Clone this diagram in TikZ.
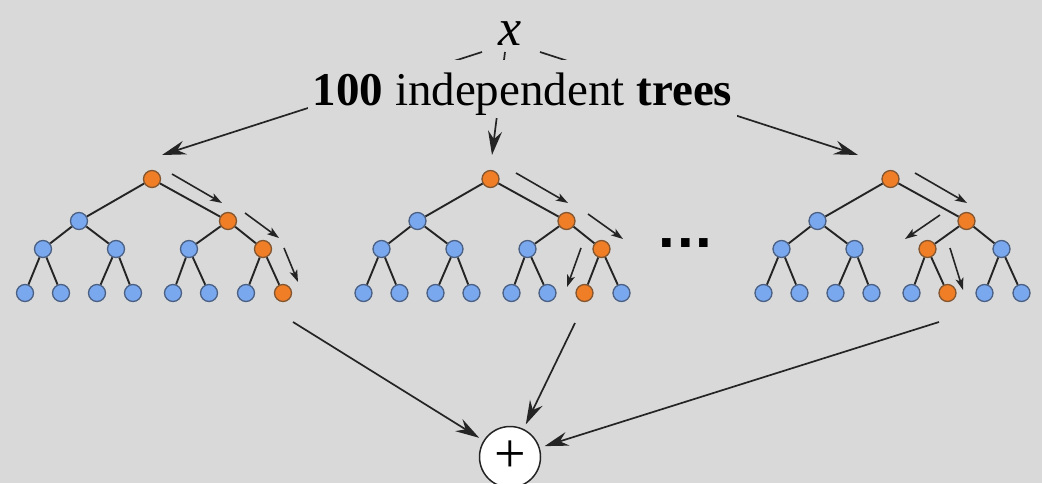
\documentclass[tikz,border=0pt]{standalone}
\usepackage{fontspec}
\setmainfont{Liberation Serif}
\newfontfamily\dotsfont{Liberation Sans}
\usetikzlibrary{arrows.meta}

\definecolor{bg}{RGB}{217,217,217}
\definecolor{nodeblue}{RGB}{122,168,238}
\definecolor{nodeblueedge}{RGB}{74,96,132}
\definecolor{nodeorange}{RGB}{240,126,38}
\definecolor{nodeorangeedge}{RGB}{132,86,48}
\definecolor{ink}{RGB}{36,36,36}

\tikzset{
  tn/.style={circle, draw=nodeblueedge, fill=nodeblue, line width=1.3pt,
             minimum size=17pt, inner sep=0pt},
  on/.style={draw=nodeorangeedge, fill=nodeorange},
  edge/.style={draw=ink, line width=1.9pt},
  hint/.style={draw=ink, line width=1.6pt, -{Stealth[length=12pt,width=8pt,inset=3pt]}},
  feed/.style={draw=ink, line width=1.7pt, -{Stealth[length=24pt,width=14pt,inset=8pt]}},
  % nodes on the decision path of each tree
  hl-ta-1/.style=on, hl-ta-3/.style=on, hl-ta-7/.style=on, hl-ta-15/.style=on,
  hl-tb-1/.style=on, hl-tb-3/.style=on, hl-tb-7/.style=on, hl-tb-14/.style=on,
  hl-tc-1/.style=on, hl-tc-3/.style=on, hl-tc-6/.style=on, hl-tc-13/.style=on,
}

% a complete binary tree of depth 3 (heap numbering 1..15), shifted by #2
\newcommand\bintree[2]{%
  \foreach \i/\px/\py in {1/152/179, 2/79/221, 3/228/221,
      4/43/249, 5/116/249, 6/189/249, 7/263/249,
      8/25/293, 9/61/293, 10/97/293, 11/133/293,
      12/173/293, 13/209/293, 14/246/293, 15/283/293}{%
    \pgfmathsetmacro\qx{\px+#2}%
    \edef\tmp{\noexpand\node[tn, hl-#1-\i/.try] (#1-\i) at (\qx,\py) {};}%
    \tmp}%
  \foreach \p in {1,...,7}{%
    \pgfmathtruncatemacro\lc{2*\p}%
    \pgfmathtruncatemacro\rc{2*\p+1}%
    \draw[edge] (#1-\p) -- (#1-\lc);
    \draw[edge] (#1-\p) -- (#1-\rc);}%
}

\begin{document}
\begin{tikzpicture}[x=1pt,y=-1pt]
  \fill[bg] (0,0) rectangle (1042,483);
  \useasboundingbox (0,0) rectangle (1042,483);

  % input
  \node[anchor=base, inner sep=0pt, font=\fontsize{52}{52}\selectfont\itshape] (xin) at (510,45) {x};
  \coordinate (xl) at (482,52);
  \coordinate (xc) at (505,52);
  \coordinate (xr) at (540,52);
  \coordinate (tl) at (162,155);
  \coordinate (tc) at (492,155);
  \coordinate (tr) at (858,155);
  \draw[feed] (xl) -- (tl);
  \draw[feed] (xc) -- (tc);
  \draw[feed] (xr) -- (tr);

  % label laid over the fan-out
  \node[anchor=base, fill=bg, inner xsep=5pt, inner ysep=0pt, text height=45pt, text depth=13pt,
        font=\fontsize{47}{50}\selectfont] (lbl) at (522.5,105)
    {\textbf{100} independent \textbf{trees}};

  % the forest
  \bintree{ta}{0}
  \bintree{tb}{338.5}
  \bintree{tc}{738.5}

  % decision-path hints
  \draw[hint] (172,174) -- (222,203);
  \draw[hint] (245,213) -- (279,238);
  \draw[hint] (284,248) -- (298,282);

  \draw[hint] (516,173) -- (568,203);
  \draw[hint] (588,214) -- (623,239);
  \draw[hint] (581,248) -- (567,287);

  \draw[hint] (915,173) -- (967,203);
  \draw[hint] (940,215) -- (905,239);
  \draw[hint] (950,248) -- (963,290);

  % ellipsis
  \node[anchor=base, inner sep=0pt, font=\dotsfont\bfseries\fontsize{60}{60}\selectfont] (dots) at (685.5,247.5)
    {.\kern2pt.\kern2pt.};

  % aggregation
  \node[circle, draw=ink, fill=white, line width=1.5pt, minimum size=61pt, inner sep=0pt,
        font=\fontsize{56}{56}\selectfont] (sum) at (510,457) {+};
  \coordinate (sa) at (293,322);
  \coordinate (sb) at (575,323);
  \coordinate (sc) at (939,322);
  \draw[feed, shorten >=5pt] (sa) -- (sum);
  \draw[feed, shorten >=5pt] (sb) -- (sum);
  \draw[feed, shorten >=5pt] (sc) -- (sum);
\end{tikzpicture}
\end{document}
